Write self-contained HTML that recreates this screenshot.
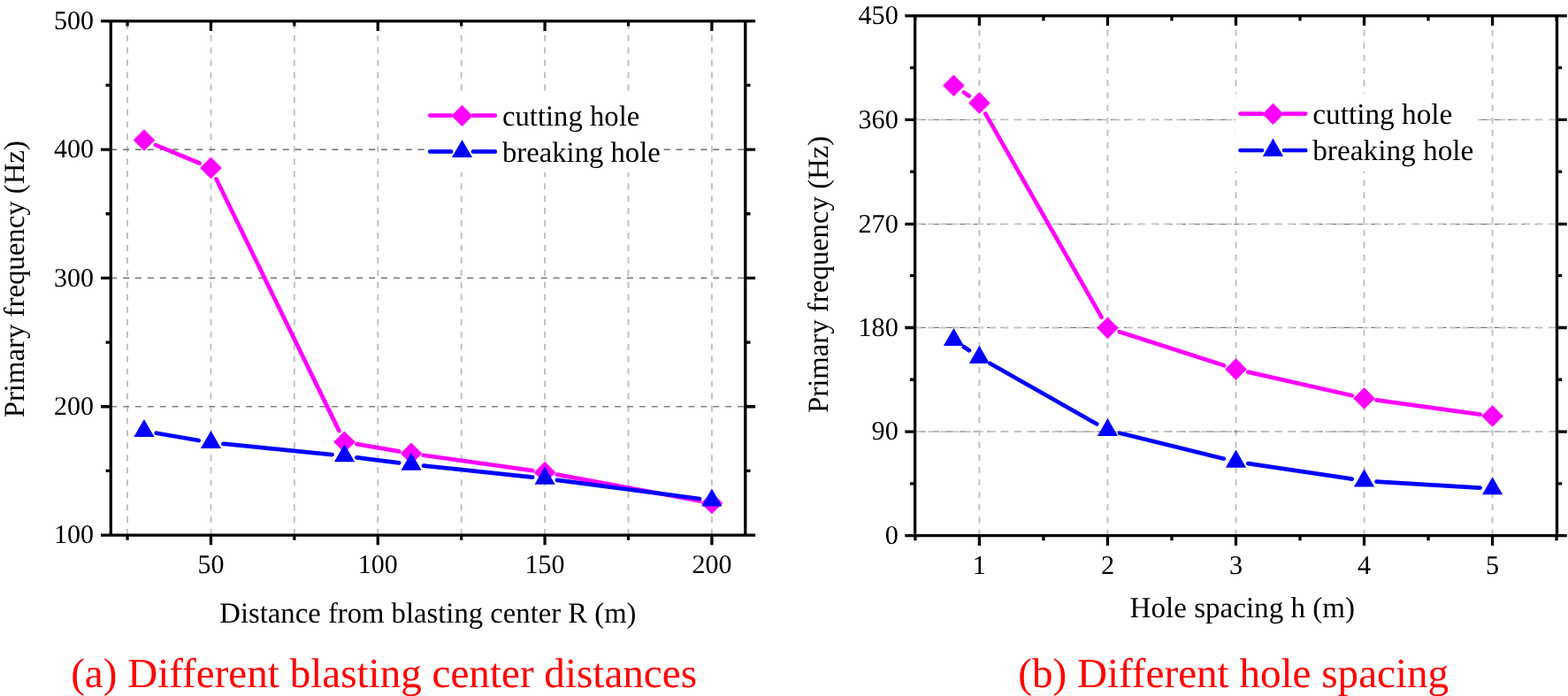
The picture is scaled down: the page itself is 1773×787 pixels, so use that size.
<!DOCTYPE html>
<html lang="en"><head><meta charset="utf-8"><title>Primary frequency charts</title>
<style>html,body{margin:0;padding:0;background:#fff}body{width:1773px;height:787px;overflow:hidden}svg{display:block}text{font-family:'Liberation Serif', serif;text-rendering:geometricPrecision}</style>
</head><body>
<svg width="1773" height="787" viewBox="0 0 1773 787">
<rect width="1773" height="787" fill="#fff"/>
<g>
<path d="M144.05 605.05V23.8M238.46 605.05V23.8M332.86 605.05V23.8M427.27 605.05V23.8M521.68 605.05V23.8M616.08 605.05V23.8M710.49 605.05V23.8M804.9 605.05V23.8" fill="none" stroke="#c0c0c0" stroke-width="1.9" stroke-dasharray="7 6.96" stroke-dashoffset="0"/>
<path d="M125.17 459.74H842.66M125.17 314.42H842.66M125.17 169.11H842.66" fill="none" stroke="#808080" stroke-width="1.7" stroke-dasharray="7 6.9" stroke-dashoffset="0"/>
<path d="M175.86 163.88L225.53 184.52M244.59 202.48L383.37 487.11M403.3 502.09L451.24 510.39M478.9 514.74L602.22 532.18M629.85 536.68L791.13 566.47" fill="none" stroke="#ff00ff" stroke-width="4.7" stroke-linecap="round"/>
<path d="M162.93 146.2L175.23 158.5L162.93 170.8L150.63 158.5Z" fill="#ff00ff"/>
<path d="M238.46 177.59L250.76 189.89L238.46 202.19L226.16 189.89Z" fill="#ff00ff"/>
<path d="M389.51 487.4L401.81 499.7L389.51 512L377.21 499.7Z" fill="#ff00ff"/>
<path d="M465.03 500.48L477.33 512.78L465.03 525.08L452.73 512.78Z" fill="#ff00ff"/>
<path d="M616.08 521.84L628.38 534.14L616.08 546.44L603.78 534.14Z" fill="#ff00ff"/>
<path d="M804.9 556.71L817.2 569.01L804.9 581.31L792.6 569.01Z" fill="#ff00ff"/>
<path d="M176.73 489.74L224.66 498.04M252.39 501.82L375.58 514.14M403.4 517.3L451.15 523.36M478.96 526.6L602.16 539.64M629.97 542.93L791.02 564" fill="none" stroke="#0000ff" stroke-width="4.7" stroke-linecap="round"/>
<path d="M162.93 473.95L174.54 494.05L151.33 494.05Z" fill="#0000ff"/>
<path d="M238.46 487.02L250.06 507.12L226.85 507.12Z" fill="#0000ff"/>
<path d="M389.51 502.14L401.11 522.24L377.9 522.24Z" fill="#0000ff"/>
<path d="M465.03 511.73L476.64 531.83L453.43 531.83Z" fill="#0000ff"/>
<path d="M616.08 527.71L627.69 547.81L604.48 547.81Z" fill="#0000ff"/>
<path d="M804.9 552.42L816.5 572.52L793.29 572.52Z" fill="#0000ff"/>
<path d="M125.3 22.15V606.7M842.8 22.15V606.7M123.65 23.8H844.45M123.65 605.05H844.45M238.46 605.05v11.3M238.46 23.8v11.3M427.27 605.05v11.3M427.27 23.8v11.3M616.08 605.05v11.3M616.08 23.8v11.3M804.9 605.05v11.3M804.9 23.8v11.3M144.05 605.05v5.7M144.05 23.8v5.7M332.86 605.05v5.7M332.86 23.8v5.7M521.68 605.05v5.7M521.68 23.8v5.7M710.49 605.05v5.7M710.49 23.8v5.7M125.3 605.05h-11.3M842.8 605.05h11.3M125.3 459.74h-11.3M842.8 459.74h11.3M125.3 314.42h-11.3M842.8 314.42h11.3M125.3 169.11h-11.3M842.8 169.11h11.3M125.3 23.8h-11.3M842.8 23.8h11.3M125.3 532.39h-5.7M842.8 532.39h5.7M125.3 387.08h-5.7M842.8 387.08h5.7M125.3 241.77h-5.7M842.8 241.77h5.7M125.3 96.46h-5.7M842.8 96.46h5.7" fill="none" stroke="#000" stroke-width="3.3"/>
<text transform="translate(238.46 647.5)" font-size="30" text-anchor="middle">50</text>
<text transform="translate(427.27 647.5)" font-size="30" text-anchor="middle">100</text>
<text transform="translate(616.08 647.5)" font-size="30" text-anchor="middle">150</text>
<text transform="translate(804.9 647.5)" font-size="30" text-anchor="middle">200</text>
<text transform="translate(106.1 614.35)" font-size="30" text-anchor="end">100</text>
<text transform="translate(106.1 469.04)" font-size="30" text-anchor="end">200</text>
<text transform="translate(106.1 323.72)" font-size="30" text-anchor="end">300</text>
<text transform="translate(106.1 178.41)" font-size="30" text-anchor="end">400</text>
<text transform="translate(106.1 33.1)" font-size="30" text-anchor="end">500</text>
<text transform="translate(483.9 703.9)" font-size="32.7" text-anchor="middle">Distance from blasting center R (m)</text>
<text transform="translate(27 315.7) rotate(-90)" font-size="32.8" text-anchor="middle">Primary frequency (Hz)</text>
<text transform="translate(434.05 776.8)" font-size="47.1" text-anchor="middle" fill="#f00">(a) Different blasting center distances</text>
<rect x="480" y="103" width="269" height="92" fill="#fff"/>
<path d="M486.2 130.6H510M535 130.6H559.8" fill="none" stroke="#ff00ff" stroke-width="4.7" stroke-linecap="round"/>
<path d="M522.5 118.8L534.6 130.9L522.5 143L510.4 130.9Z" fill="#ff00ff"/>
<text transform="translate(568 141.5)" font-size="32.7">cutting hole</text>
<path d="M486.2 171.4H510M535 171.4H559.8" fill="none" stroke="#0000ff" stroke-width="4.7" stroke-linecap="round"/>
<path d="M522.5 158L534.1 178.1L510.9 178.1Z" fill="#0000ff"/>
<text transform="translate(568 182.6)" font-size="32.7">breaking hole</text>
</g>
<g>
<path d="M1107.4 605.6V17.8M1252.44 605.6V17.8M1397.48 605.6V17.8M1542.52 605.6V17.8M1687.56 605.6V17.8" fill="none" stroke="#c0c0c0" stroke-width="1.9" stroke-dasharray="7 7.12" stroke-dashoffset="0"/>
<path d="M1034.88 488.04H1760.08M1034.88 370.48H1760.08M1034.88 253.42H1760.08M1034.88 135.36H1760.08" fill="none" stroke="#505050" stroke-width="0.85" stroke-dasharray="8 7.5" stroke-dashoffset="-3.7"/>
<path d="M1034.88 488.04H1760.08M1034.88 370.48H1760.08M1034.88 253.42H1760.08M1034.88 135.36H1760.08" fill="none" stroke="#c6c6c6" stroke-width="1.8" stroke-dasharray="7.05 7.0" stroke-dashoffset="0"/>
<path d="M1089.97 104.57L1095.82 108.55M1114.33 128.58L1245.51 358.71M1265.77 375.16L1384.15 413.22M1411.13 420.6L1528.87 447.32M1556.39 452.34L1673.69 468.61" fill="none" stroke="#ff00ff" stroke-width="4.7" stroke-linecap="round"/>
<path d="M1078.39 84.4L1090.69 96.7L1078.39 109L1066.09 96.7Z" fill="#ff00ff"/>
<path d="M1107.4 104.12L1119.7 116.42L1107.4 128.72L1095.1 116.42Z" fill="#ff00ff"/>
<path d="M1252.44 358.57L1264.74 370.87L1252.44 383.17L1240.14 370.87Z" fill="#ff00ff"/>
<path d="M1397.48 405.2L1409.78 417.5L1397.48 429.8L1385.18 417.5Z" fill="#ff00ff"/>
<path d="M1542.52 438.12L1554.82 450.42L1542.52 462.72L1530.22 450.42Z" fill="#ff00ff"/>
<path d="M1687.56 458.24L1699.86 470.54L1687.56 482.84L1675.26 470.54Z" fill="#ff00ff"/>
<path d="M1089.95 392.23L1095.85 396.27M1119.58 411.08L1240.26 479.44M1266.04 489.68L1383.88 518.66M1411.33 524.07L1528.67 541.62M1556.49 544.54L1673.59 551.71" fill="none" stroke="#0000ff" stroke-width="4.7" stroke-linecap="round"/>
<path d="M1078.39 370.93L1090 391.03L1066.79 391.03Z" fill="#0000ff"/>
<path d="M1107.4 390.78L1119 410.88L1095.8 410.88Z" fill="#0000ff"/>
<path d="M1252.44 472.94L1264.04 493.04L1240.84 493.04Z" fill="#0000ff"/>
<path d="M1397.48 508.6L1409.08 528.7L1385.88 528.7Z" fill="#0000ff"/>
<path d="M1542.52 530.29L1554.12 550.39L1530.92 550.39Z" fill="#0000ff"/>
<path d="M1687.56 539.17L1699.16 559.27L1675.96 559.27Z" fill="#0000ff"/>
<path d="M1034.6 16.15V607.25M1760.5 16.15V607.25M1032.95 17.8H1762.15M1032.95 605.6H1762.15M1107.4 605.6v11.3M1107.4 17.8v11.3M1252.44 605.6v11.3M1252.44 17.8v11.3M1397.48 605.6v11.3M1397.48 17.8v11.3M1542.52 605.6v11.3M1542.52 17.8v11.3M1687.56 605.6v11.3M1687.56 17.8v11.3M1034.88 605.6v5.7M1034.88 17.8v5.7M1179.92 605.6v5.7M1179.92 17.8v5.7M1324.96 605.6v5.7M1324.96 17.8v5.7M1470 605.6v5.7M1470 17.8v5.7M1615.04 605.6v5.7M1615.04 17.8v5.7M1760.08 605.6v5.7M1760.08 17.8v5.7M1034.6 605.6h-11.3M1760.5 605.6h11.3M1034.6 488.04h-11.3M1760.5 488.04h11.3M1034.6 370.48h-11.3M1760.5 370.48h11.3M1034.6 253.42h-11.3M1760.5 253.42h11.3M1034.6 135.36h-11.3M1760.5 135.36h11.3M1034.6 17.8h-11.3M1760.5 17.8h11.3M1034.6 546.82h-5.7M1760.5 546.82h5.7M1034.6 429.26h-5.7M1760.5 429.26h5.7M1034.6 311.7h-5.7M1760.5 311.7h5.7M1034.6 194.14h-5.7M1760.5 194.14h5.7M1034.6 76.58h-5.7M1760.5 76.58h5.7" fill="none" stroke="#000" stroke-width="3.3"/>
<text transform="translate(1107.4 648.5)" font-size="30.2" text-anchor="middle">1</text>
<text transform="translate(1252.44 648.5)" font-size="30.2" text-anchor="middle">2</text>
<text transform="translate(1397.48 648.5)" font-size="30.2" text-anchor="middle">3</text>
<text transform="translate(1542.52 648.5)" font-size="30.2" text-anchor="middle">4</text>
<text transform="translate(1687.56 648.5)" font-size="30.2" text-anchor="middle">5</text>
<text transform="translate(1015.8 614.9)" font-size="30.2" text-anchor="end">0</text>
<text transform="translate(1015.8 497.34)" font-size="30.2" text-anchor="end">90</text>
<text transform="translate(1015.8 379.78)" font-size="30.2" text-anchor="end">180</text>
<text transform="translate(1015.8 262.72)" font-size="30.2" text-anchor="end">270</text>
<text transform="translate(1015.8 144.66)" font-size="30.2" text-anchor="end">360</text>
<text transform="translate(1015.8 27.1)" font-size="30.2" text-anchor="end">450</text>
<text transform="translate(1404.8 698)" font-size="33.1" text-anchor="middle">Hole spacing h (m)</text>
<text transform="translate(936 310.4) rotate(-90)" font-size="32.8" text-anchor="middle">Primary frequency (Hz)</text>
<text transform="translate(1394.7 776.6)" font-size="47.1" text-anchor="middle" fill="#f00">(b) Different hole spacing</text>
<rect x="1396.5" y="105.7" width="274.5" height="88" fill="#fff"/>
<path d="M1402.5 128.6H1427M1452 128.6H1476.2" fill="none" stroke="#ff00ff" stroke-width="4.7" stroke-linecap="round"/>
<path d="M1439.5 116.8L1451.6 128.9L1439.5 141L1427.4 128.9Z" fill="#ff00ff"/>
<text transform="translate(1484.2 139.5)" font-size="33.3">cutting hole</text>
<path d="M1402.5 170H1427M1452 170H1476.2" fill="none" stroke="#0000ff" stroke-width="4.7" stroke-linecap="round"/>
<path d="M1439.5 156.6L1451.1 176.7L1427.9 176.7Z" fill="#0000ff"/>
<text transform="translate(1484.2 181.3)" font-size="33.3">breaking hole</text>
</g>
</svg></body></html>
